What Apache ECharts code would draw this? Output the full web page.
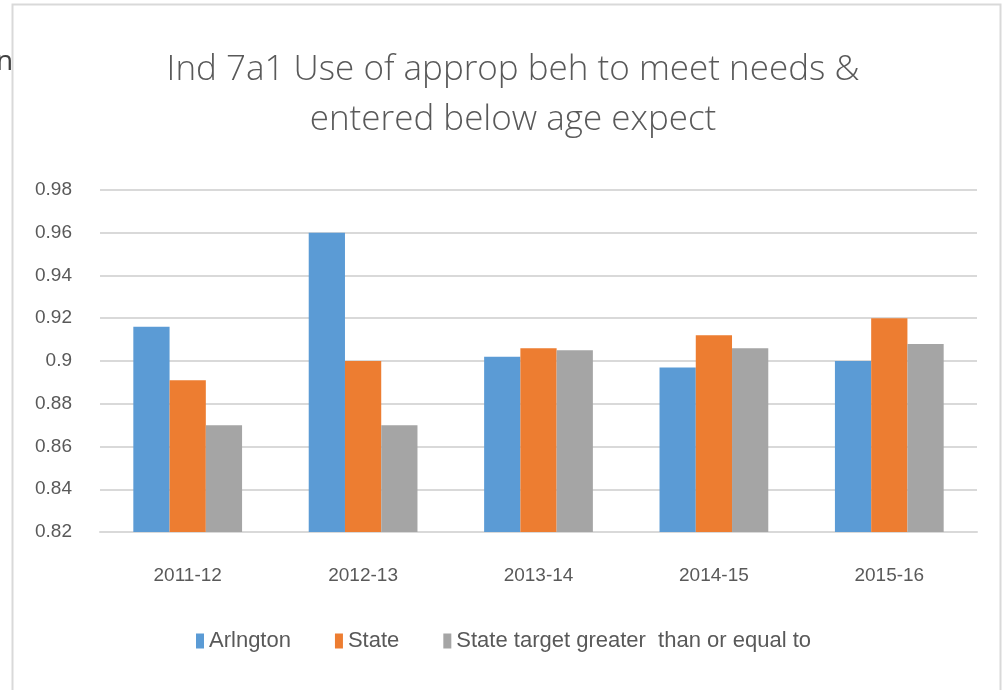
<!DOCTYPE html>
<html>
<head>
<meta charset="utf-8">
<script src="https://cdn.jsdelivr.net/npm/echarts@6/dist/echarts.min.js"></script>
<style>
  html, body { margin: 0; padding: 0; background: #fff; }
  #chart { width: 1007px; height: 690px; }
</style>
</head>
<body>
<div id="chart"></div>
<script>
// 数据
const categories = ['2011-12', '2012-13', '2013-14', '2014-15', '2015-16'];
const arlington = [0.916, 0.960, 0.902, 0.897, 0.900];
const stateVals = [0.891, 0.900, 0.906, 0.912, 0.920];
const stateTarget = [0.870, 0.870, 0.905, 0.906, 0.908];
const seriesNames = ['Arlngton', 'State', 'State target greater  than or equal to'];

const chart = echarts.init(document.getElementById('chart'));

const labelFont = 'Liberation Sans, sans-serif';

const option = {
  animation: false,
  title: {
    text: 'Ind 7a1 Use of approp beh to meet needs &\nentered below age expect',
    left: 508,
    textAlign: 'center',
    top: 40,
    textStyle: {
      fontFamily: 'Open Sans, sans-serif',
      fontWeight: 300,
      fontSize: 35,
      lineHeight: 50,
      color: '#595959'
    }
  },
  graphic: [
    {
      type: 'rect',
      shape: { x: 12.5, y: 4.5, width: 988, height: 700 },
      style: { fill: 'none', stroke: '#d9d9d9', lineWidth: 2 }
    },
    {
      type: 'text',
      left: -4,
      top: 48,
      style: { text: 'n', fontSize: 28, fill: '#404040', fontFamily: 'Open Sans, sans-serif' }
    }
  ],
  grid: {
    left: 100,
    right: 30,
    top: 190,
    bottom: 158
  },
  legend: {
    bottom: 33,
    left: 'center',
    itemWidth: 8,
    itemHeight: 15,
    itemGap: 44,
    icon: 'rect',
    textStyle: { fontFamily: labelFont, fontSize: 22, color: '#595959' },
    data: seriesNames
  },
  xAxis: {
    type: 'category',
    data: categories,
    axisLine: { lineStyle: { color: '#d9d9d9', width: 2 } },
    axisTick: { show: false },
    axisLabel: { fontFamily: labelFont, fontSize: 19, color: '#595959', margin: 34 }
  },
  yAxis: {
    type: 'value',
    min: 0.82,
    max: 0.98,
    interval: 0.02,
    axisLine: { show: false },
    axisTick: { show: false },
    splitLine: { lineStyle: { color: '#d9d9d9', width: 2 } },
    axisLabel: {
      fontFamily: labelFont, fontSize: 19, color: '#595959', margin: 28,
      formatter: v => String(Math.round(v * 100) / 100)
    }
  },
  series: [
    { name: seriesNames[0], type: 'bar', data: arlington, barGap: '0%', barCategoryGap: '38%', itemStyle: { color: '#5b9bd5' } },
    { name: seriesNames[1], type: 'bar', data: stateVals, itemStyle: { color: '#ed7d31' } },
    { name: seriesNames[2], type: 'bar', data: stateTarget, itemStyle: { color: '#a5a5a5' } }
  ]
};

chart.setOption(option);
</script>
</body>
</html>
